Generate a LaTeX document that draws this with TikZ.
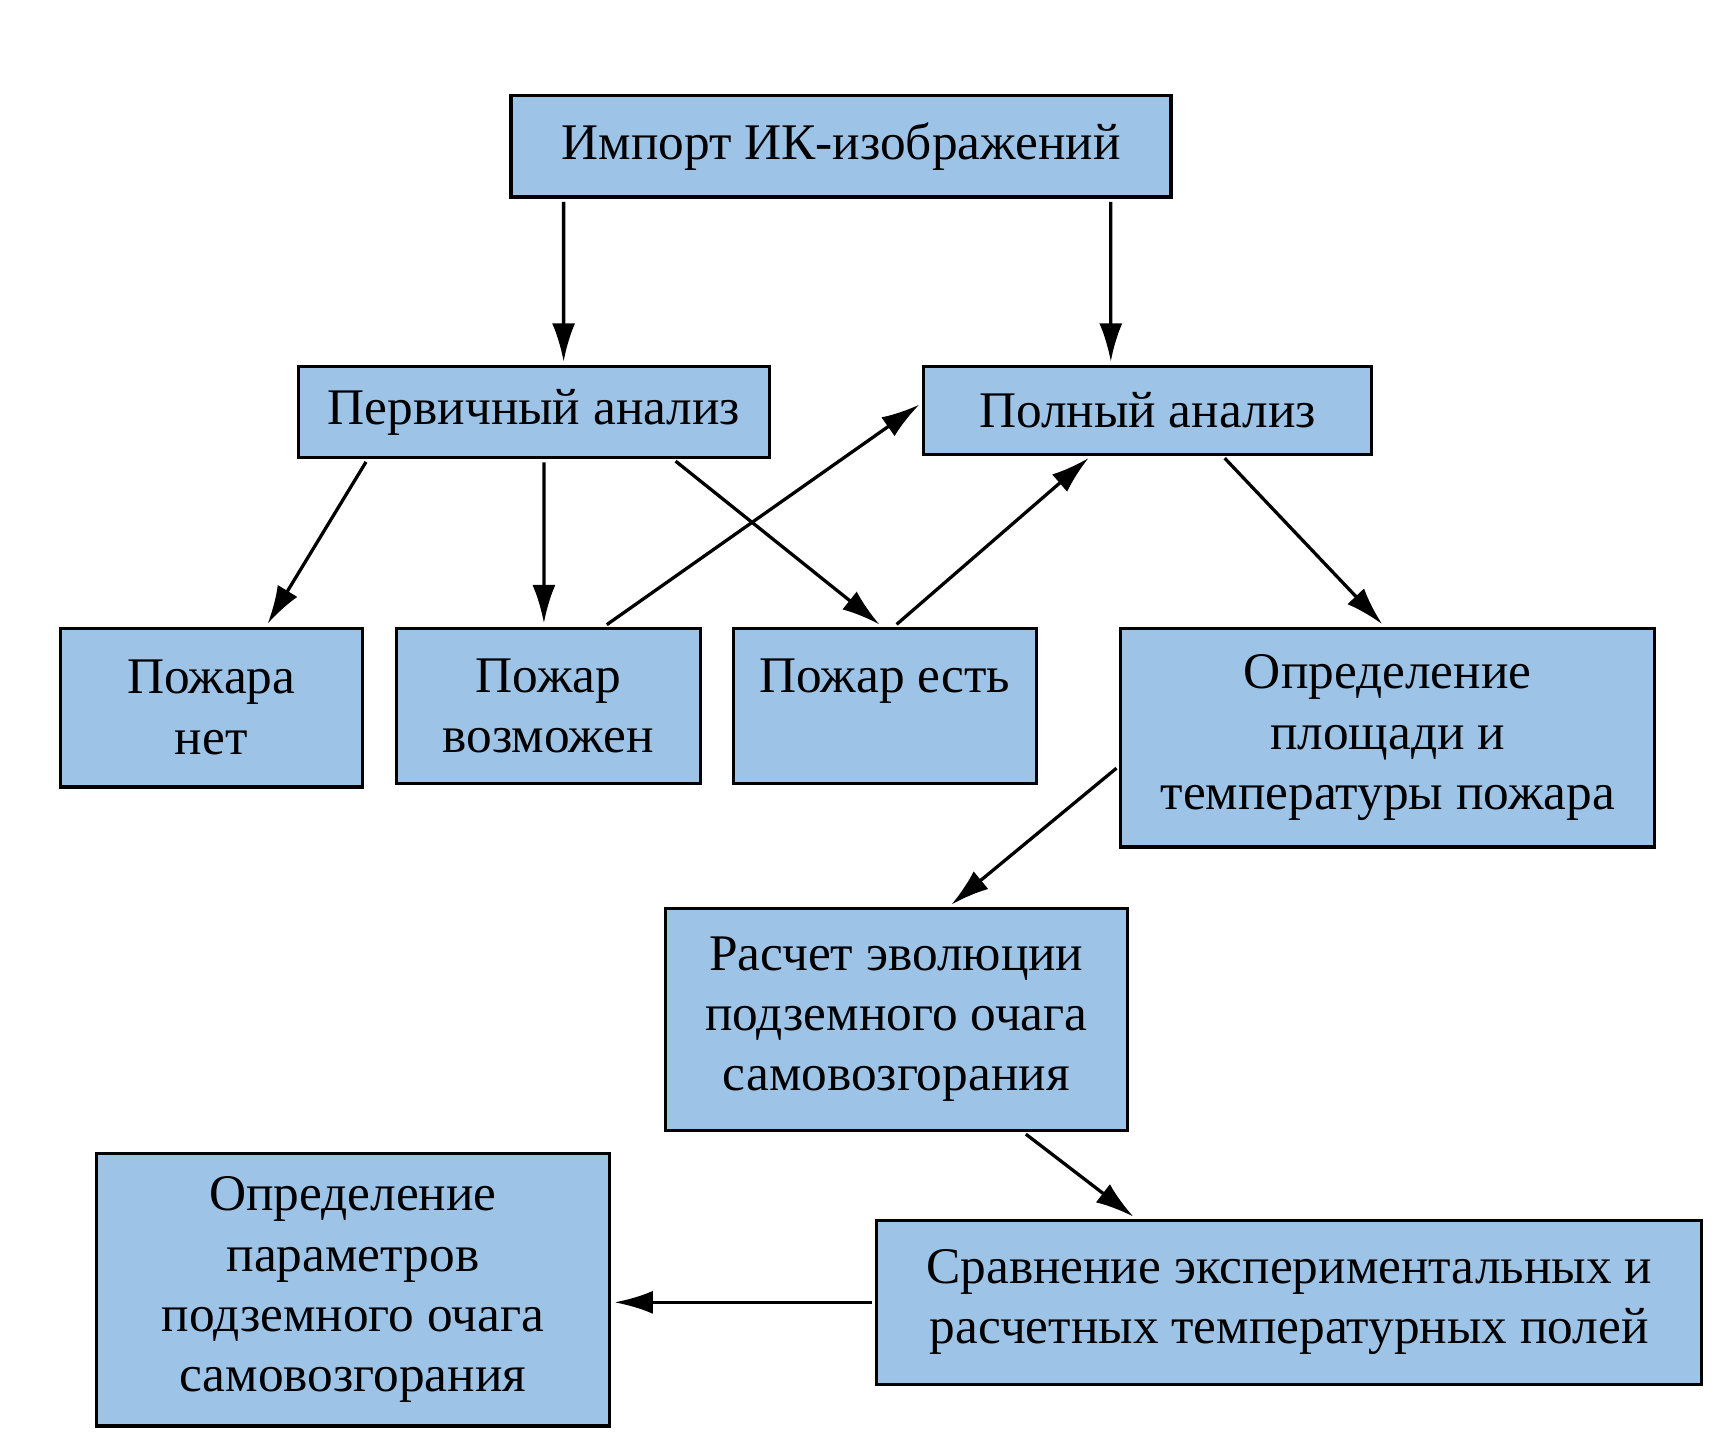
\documentclass[tikz,border=0pt]{standalone}
\usepackage{fontspec}
\setmainfont{Liberation Serif}
\usetikzlibrary{arrows.meta}
\definecolor{boxblue}{RGB}{157,195,230}
\tikzset{
  blk/.style={draw=black, line width=0.06cm, fill=boxblue, inner sep=0pt,
    align=center, font=\fontsize{26.7}{31.3}\selectfont},
  arr/.style={draw=black, line width=0.06cm,
    -{Latex[length=0.7cm,width=0.42cm]}, shorten >=0.06cm, shorten <=0.06cm}
}
\begin{document}
\begin{tikzpicture}
\useasboundingbox (0,0) rectangle (31.36,-26.36);
\node[blk, minimum width=12.06cm, minimum height=1.86cm] (imp) at (15.37,-2.67) {Импорт ИК-изображений};
\node[blk, minimum width=8.60cm, minimum height=1.66cm] (perv) at (9.76,-7.53) {Первичный анализ};
\node[blk, minimum width=8.18cm, minimum height=1.60cm] (poln) at (20.97,-7.50) {Полный анализ};
\node[blk, minimum width=5.52cm, minimum height=2.90cm] (net) at (3.86,-12.93) {Пожара\\нет};
\node[blk, minimum width=5.56cm, minimum height=2.84cm] (vozm) at (10.02,-12.90) {Пожар\\возможен};
\node[blk, minimum width=5.54cm, minimum height=2.84cm] (est) at (16.17,-12.90) {Пожар есть\\\mbox{}};
\node[blk, minimum width=9.76cm, minimum height=4.00cm] (opr) at (25.36,-13.48) {Определение\\площади и\\температуры пожара};
\node[blk, minimum width=8.44cm, minimum height=4.06cm] (rasch) at (16.38,-18.63) {Расчет эволюции\\подземного очага\\самовозгорания};
\node[blk, minimum width=15.08cm, minimum height=3.00cm] (sravn) at (23.56,-23.80) {Сравнение экспериментальных и\\расчетных температурных полей};
\node[blk, minimum width=9.38cm, minimum height=4.98cm] (param) at (6.45,-23.57) {Определение\\параметров\\подземного очага\\самовозгорания};

\draw[arr] ([xshift=-5.07cm]imp.south) -- ([xshift=0.54cm]perv.north);
\draw[arr] ([xshift=4.93cm]imp.south) -- ([xshift=-0.67cm]poln.north);
\draw[arr] ([xshift=-3.04cm]perv.south) -- ([xshift=1.0cm]net.north);
\draw[arr] ([xshift=0.18cm]perv.south) -- ([xshift=-0.08cm]vozm.north);
\draw[arr] ([xshift=2.54cm]perv.south) -- ([xshift=-0.05cm]est.north);
\draw[arr] ([xshift=1.02cm]vozm.north) -- ([yshift=0.14cm]poln.west);
\draw[arr] ([xshift=0.17cm]est.north) -- ([xshift=-1.03cm]poln.south);
\draw[arr] ([xshift=1.37cm]poln.south) -- ([xshift=-0.06cm]opr.north);
\draw[arr] ([yshift=-0.52cm]opr.west) -- ([xshift=0.96cm]rasch.north);
\draw[arr] ([xshift=2.32cm]rasch.south) -- ([xshift=-2.8cm]sravn.north);
\draw[arr] (sravn.west) -- ([yshift=-0.23cm]param.east);
\end{tikzpicture}
\end{document}
